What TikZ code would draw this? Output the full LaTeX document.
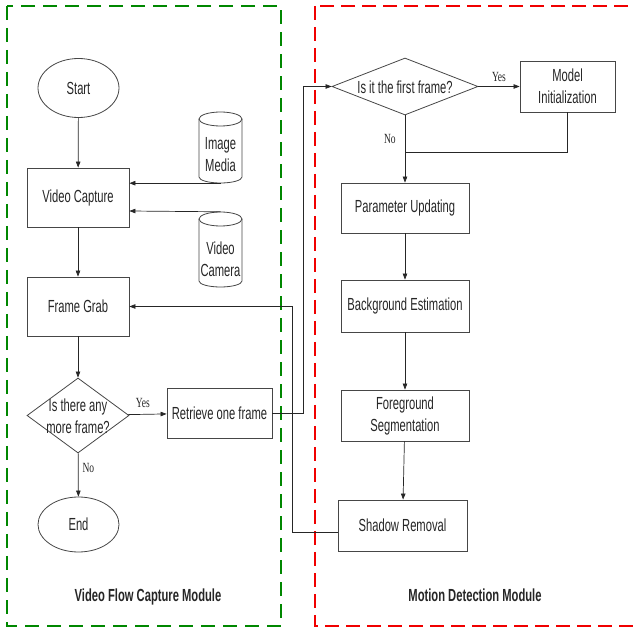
\documentclass[tikz,border=0pt]{standalone}
\usepackage{fontspec}
\setmainfont{Liberation Sans}[FakeStretch=0.64]
\newfontfamily\lblfont{Liberation Serif}[FakeStretch=0.68]
\usetikzlibrary{shapes.geometric,arrows.meta,calc}
\definecolor{grn}{RGB}{0,135,0}
\definecolor{rd}{RGB}{240,0,0}
\definecolor{ln}{RGB}{70,70,70}
\begin{document}
\begin{tikzpicture}[x=1pt,y=-1pt,
  every node/.style={font=\fontsize{17.5}{22}\selectfont, text=black!85},
  box/.style={draw=ln, line width=0.8pt, inner sep=0pt, align=center},
  term/.style={draw=ln, line width=0.8pt, ellipse, inner sep=0pt},
  dia/.style={draw=ln, line width=0.8pt, diamond, inner sep=0pt},
  hold/.style={inner sep=0pt},
  txt/.style={align=center, inner sep=0pt},
  conn/.style={draw=black!85, line width=0.7pt},
  arr/.style={conn, -{Triangle[length=6pt,width=4.5pt]}},
  yn/.style={font=\lblfont\fontsize{14}{16}\selectfont, inner sep=0pt},
  modlbl/.style={font=\bfseries\fontsize{17.5}{20}\selectfont, inner sep=0pt},
  cylline/.style={draw=ln, line width=0.8pt}
]
\useasboundingbox (0,0) rectangle (633,631);
% module frames
\draw[grn, line width=1.6pt, dash pattern=on 14pt off 8pt] (7,6) rectangle (281,626);
\draw[rd, line width=1.6pt, dash pattern=on 14pt off 7pt] (315,6) rectangle (660,626);

% left column
\node[term, minimum width=81pt, minimum height=59pt] (start) at (78.5,88) {Start};
\node[box, minimum width=102pt, minimum height=59pt] (vc) at (78,197.5) {Video Capture};
\node[box, minimum width=102pt, minimum height=59pt] (fg) at (78,306.5) {Frame Grab};
\node[dia, minimum width=102pt, minimum height=75pt] (d1) at (78,415.5) {};
\node[txt] (d1t) at (78,416) {Is there any\\more frame?};
\node[term, minimum width=81pt, minimum height=55pt] (endn) at (78.5,524.5) {End};
\node[box, minimum width=105pt, minimum height=50pt] (ret) at (219.5,413) {Retrieve one frame};

% cylinders
\node[hold, minimum width=43pt, minimum height=71pt] (im) at (220.5,147.5) {};
\draw[cylline] (199,119) -- (199,177) arc (180:0:21.5 and 6) -- (242,119) arc (0:-180:21.5 and 7) -- cycle;
\draw[cylline] (199,119) arc (180:0:21.5 and 7);
\node[txt] (imt) at (220.5,155) {Image\\Media};
\node[hold, minimum width=43pt, minimum height=75pt] (vcam) at (220.5,249.5) {};
\draw[cylline] (199,219) -- (199,281) arc (180:0:21.5 and 6) -- (242,219) arc (0:-180:21.5 and 7) -- cycle;
\draw[cylline] (199,219) arc (180:0:21.5 and 7);
\node[txt] (vcamt) at (220.5,259) {Video\\Camera};

% right column
\node[dia, minimum width=146pt, minimum height=57pt] (d2) at (405,86.5) {};
\node[txt] (d2t) at (405,87) {Is it the first frame?};
\node[box, minimum width=95pt, minimum height=51pt] (mi) at (567.5,86.5) {Model\\Initialization};
\node[box, minimum width=128pt, minimum height=50pt] (pu) at (405,208) {Parameter Updating};
\node[box, minimum width=128pt, minimum height=52pt] (be) at (405,306) {Background Estimation};
\node[box, minimum width=128pt, minimum height=51pt] (fs) at (405,415.5) {Foreground\\Segmentation};
\node[box, minimum width=129pt, minimum height=51pt] (sr) at (402.5,525.5) {Shadow Removal};

% module labels
\node[modlbl] (lm) at (148,597) {Video Flow Capture Module};
\node[modlbl] (rm) at (475,595) {Motion Detection Module};

% connectors left
\draw[arr] (start) -- (vc);
\draw[arr] (im.south) -- (im.south -| vc.east);
\draw[arr] (vcam.north) -- ($(vc.east)+(0,13.5)$);
\draw[arr] (vc) -- (fg);
\draw[arr] (fg) -- (d1);
\draw[arr] (d1) -- (ret) node[yn, pos=0.38, above=6pt] (yes1) {Yes};
\draw[arr] (d1) -- (endn) node[yn, pos=0.35, right=4pt] (no1) {No};

% connectors crossing
\coordinate (c1) at ($(ret.east)+(31,0)$);
\draw[arr] (ret.east) -- (c1) |- (d2.west);
\coordinate (c2) at ($(sr.west)+(-45,6.5)$);
\draw[arr] ($(sr.west)+(0,6.5)$) -- (c2) |- (fg.east);

% connectors right
\draw[arr] (d2.east) -- (mi.west) node[yn, pos=0.5, above=5pt] (yes2) {Yes};
\draw[arr] (d2.south) -- (pu.north) node[yn, pos=0.35, left=9pt] (no2) {No};
\coordinate (j) at (405,152);
\draw[conn] (mi.south) |- (j);
\draw[arr] (pu) -- (be);
\draw[arr] (be) -- (fs);
\draw[arr] (fs) -- (sr);
\end{tikzpicture}
\end{document}
